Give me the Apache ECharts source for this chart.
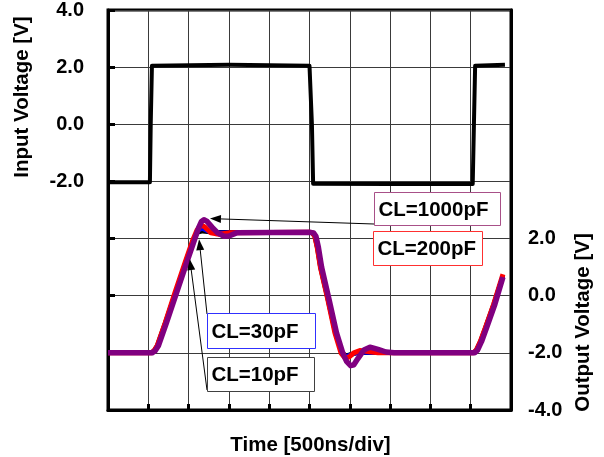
<!DOCTYPE html>
<html>
<head>
<meta charset="utf-8">
<script src="https://cdn.jsdelivr.net/npm/echarts@6/dist/echarts.min.js"></script>
<style>html,body{margin:0;padding:0;background:#fff}#c{width:604px;height:457px}</style>
</head>
<body>
<div id="c"></div>
<script>
// ---- data (x in divisions of 500 ns, values in volts) ----
const inTime = [0, 1.04, 1.06, 1.09, 1.12, 3.0, 5.0, 5.03, 5.06, 5.09, 7.0, 9.05, 9.08, 9.11, 9.14, 9.85];
const inVolt = [-2.03, -2.03, 0, 2.05, 2.1, 2.08, 2.05, 2.0, 0, -2.08, -2.09, -2.09, 0, 2.05, 2.1, 2.08];

const t10 = [0, 1.07, 1.14, 1.22, 1.42, 1.67, 1.92, 2.12, 2.22, 2.35, 2.6, 5.0, 5.07, 5.13, 5.19, 5.27, 5.45, 5.64, 5.8, 5.9, 6.0, 6.2, 7.0, 9.07, 9.14, 9.24, 9.37, 9.57, 9.8];
const v10 = [-2.0, -2.0, -1.93, -1.75, -0.95, 0.1, 1.15, 1.97, 2.22, 2.26, 2.22, 2.22, 2.2, 2.08, 1.7, 1.0, -0.1, -1.3, -1.98, -2.1, -2.06, -2.0, -2.0, -2.0, -1.9, -1.6, -1.1, -0.3, 0.7];

const t30 = [0, 1.08, 1.15, 1.23, 1.43, 1.68, 1.93, 2.13, 2.23, 2.33, 2.5, 2.7, 5.0, 5.08, 5.14, 5.2, 5.28, 5.46, 5.65, 5.8, 5.9, 6.0, 6.2, 7.0, 9.08, 9.15, 9.25, 9.38, 9.58, 9.8];
const v30 = [-2.0, -2.0, -1.93, -1.75, -0.95, 0.1, 1.15, 1.97, 2.28, 2.36, 2.25, 2.2, 2.22, 2.2, 2.08, 1.7, 1.0, -0.1, -1.3, -1.98, -2.14, -2.08, -1.98, -2.0, -2.0, -1.9, -1.6, -1.1, -0.3, 0.7];

const t200 = [0, 1.07, 1.14, 1.22, 1.42, 1.66, 1.91, 2.11, 2.21, 2.31, 2.41, 2.55, 2.75, 3.0, 5.0, 5.07, 5.13, 5.19, 5.27, 5.45, 5.63, 5.78, 5.88, 5.98, 6.1, 6.25, 6.45, 6.7, 7.0, 9.07, 9.14, 9.24, 9.37, 9.57, 9.8];
const v200 = [-2.0, -2.0, -1.93, -1.75, -0.95, 0.1, 1.15, 1.97, 2.3, 2.48, 2.4, 2.2, 2.15, 2.2, 2.22, 2.2, 2.08, 1.7, 1.0, -0.1, -1.3, -2.0, -2.18, -2.15, -2.0, -1.92, -1.95, -2.0, -2.0, -2.0, -1.9, -1.6, -1.1, -0.3, 0.75];

const t1000 = [0, 1.10, 1.17, 1.25, 1.45, 1.70, 1.95, 2.15, 2.25, 2.32, 2.38, 2.46, 2.58, 2.72, 2.88, 3.0, 3.19, 5.0, 5.10, 5.16, 5.22, 5.30, 5.48, 5.67, 5.82, 5.92, 6.02, 6.10, 6.20, 6.35, 6.50, 6.70, 6.90, 7.10, 9.10, 9.17, 9.27, 9.40, 9.60, 9.80];
const v1000 = [-2.0, -2.0, -1.93, -1.75, -0.95, 0.1, 1.15, 1.97, 2.38, 2.6, 2.66, 2.6, 2.4, 2.2, 2.08, 2.09, 2.2, 2.22, 2.2, 2.08, 1.7, 1.0, -0.1, -1.3, -1.98, -2.3, -2.45, -2.42, -2.2, -1.9, -1.8, -1.88, -1.97, -2.0, -2.0, -1.9, -1.6, -1.1, -0.3, 0.65];

const leftTicks = ['4.0', '2.0', '0.0', '-2.0'];
const rightTicks = ['2.0', '0.0', '-2.0', '-4.0'];

// annotation labels and the data points their arrows point at
const labels = ['CL=1000pF', 'CL=200pF', 'CL=30pF', 'CL=10pF'];
const arrowTargetT = [2.53, null, 2.26, 2.03];
const arrowTargetV = [2.70, null, 1.98, 1.28];

function zip(a, b) { return a.map((x, i) => [x, b[i]]); }

const FONT = '"Liberation Sans", Arial, sans-serif';
const chart = echarts.init(document.getElementById('c'), null, {renderer: 'canvas'});

const option = {
  animation: false,
  backgroundColor: '#fff',
  grid: {left: 108, right: 93, top: 6.5, bottom: 47, show: true, borderColor: '#000', borderWidth: 3, backgroundColor: 'transparent'},
  xAxis: {
    type: 'value', min: 0, max: 10, interval: 1,
    axisLabel: {show: false},
    axisLine: {show: true, onZero: false, lineStyle: {color: '#000', width: 3}},
    axisTick: {show: true, inside: true, length: 6, lineStyle: {color: '#000', width: 3}},
    splitLine: {show: true, lineStyle: {color: '#3a3a3a', width: 1}}
  },
  yAxis: [{
    type: 'value', position: 'left', min: -10, max: 4, interval: 2,
    axisLine: {show: true, onZero: false, lineStyle: {color: '#000', width: 3}},
    axisTick: {show: true, inside: true, length: 7, lineStyle: {color: '#000', width: 3}},
    axisLabel: {
      margin: 24, color: '#000', fontWeight: 'bold', fontSize: 20, fontFamily: FONT,
      formatter: v => { const s = v.toFixed(1); return leftTicks.includes(s) ? s : ''; }
    },
    splitLine: {show: true, lineStyle: {color: '#3a3a3a', width: 1}}
  }, {
    type: 'value', position: 'right', min: -4, max: 10, interval: 2,
    axisLine: {show: true, onZero: false, lineStyle: {color: '#000', width: 3}},
    axisTick: {show: false},
    axisLabel: {
      margin: 17, color: '#000', fontWeight: 'bold', fontSize: 20, fontFamily: FONT,
      formatter: v => { const s = v.toFixed(1); return rightTicks.includes(s) ? s : ''; }
    },
    splitLine: {show: false}
  }],
  series: [
    {type: 'line', name: 'Input', yAxisIndex: 0, data: zip(inTime, inVolt), showSymbol: false,
     lineStyle: {color: '#000', width: 4, join: 'round'}},
    {type: 'line', name: 'CL=10pF', yAxisIndex: 1, data: zip(t10, v10), showSymbol: false,
     lineStyle: {color: '#000', width: 4.5, join: 'round'}},
    {type: 'line', name: 'CL=30pF', yAxisIndex: 1, data: zip(t30, v30), showSymbol: false,
     lineStyle: {color: '#0000ff', width: 4.5, join: 'round'}},
    {type: 'line', name: 'CL=200pF', yAxisIndex: 1, data: zip(t200, v200), showSymbol: false,
     lineStyle: {color: '#ff0000', width: 5, join: 'round'}},
    {type: 'line', name: 'CL=1000pF', yAxisIndex: 1, data: zip(t1000, v1000), showSymbol: false,
     lineStyle: {color: '#800080', width: 5.5, join: 'round'}}
  ]
};
chart.setOption(option);

// layout of annotation boxes (pixels)
const boxes = [
  {x: 374.5, y: 192.5, w: 126, h: 33, stroke: '#a85088', tail: [374, 224]},
  {x: 373.5, y: 231.5, w: 109, h: 34, stroke: '#ff3030', tail: null},
  {x: 207.5, y: 313.5, w: 108, h: 35, stroke: '#3030ff', tail: [207, 314]},
  {x: 207.5, y: 357.5, w: 107, h: 34, stroke: '#404040', tail: [207, 390]}
];

const g = [];
function txt(s, x, y, rot) {
  return {type: 'text', x: x, y: y, rotation: rot || 0, z: 100,
    style: {text: s, x: 0, y: 0, fill: '#000', font: 'bold 20.5px ' + FONT,
      align: 'center', verticalAlign: 'middle', textAlign: 'center', textVerticalAlign: 'middle'}};
}
g.push(txt('Input Voltage [V]', 22, 97, Math.PI / 2));
g.push(txt('Output Voltage [V]', 583.5, 322.5, Math.PI / 2));
g.push(txt('Time [500ns/div]', 310.5, 445, 0));

boxes.forEach((b, i) => {
  if (b.tail && arrowTargetT[i] != null) {
    const tip = chart.convertToPixel({xAxisIndex: 0, yAxisIndex: 1}, [arrowTargetT[i], arrowTargetV[i]]);
    const dx = tip[0] - b.tail[0], dy = tip[1] - b.tail[1];
    const L = Math.hypot(dx, dy), ux = dx / L, uy = dy / L, nx = -uy, ny = ux;
    const hl = 11, hw = 4;
    const bx = tip[0] - ux * hl, by = tip[1] - uy * hl;
    g.push({type: 'line', z: 99, shape: {x1: b.tail[0], y1: b.tail[1], x2: bx, y2: by},
      style: {stroke: '#000', lineWidth: 1}});
    g.push({type: 'polygon', z: 99, shape: {points: [[tip[0], tip[1]], [bx + nx * hw, by + ny * hw], [bx - nx * hw, by - ny * hw]]},
      style: {fill: '#000'}});
  }
  g.push({type: 'rect', z: 100, shape: {x: b.x, y: b.y, width: b.w, height: b.h},
    style: {fill: '#fff', stroke: b.stroke, lineWidth: 1}});
  g.push({type: 'text', z: 101, x: b.x + 4, y: b.y + b.h / 2 + 1,
    style: {text: labels[i], x: 0, y: 0, fill: '#000', font: 'bold 20.5px ' + FONT,
      align: 'left', verticalAlign: 'middle', textAlign: 'left', textVerticalAlign: 'middle'}});
});
chart.setOption({graphic: {elements: g}});
</script>
</body>
</html>
